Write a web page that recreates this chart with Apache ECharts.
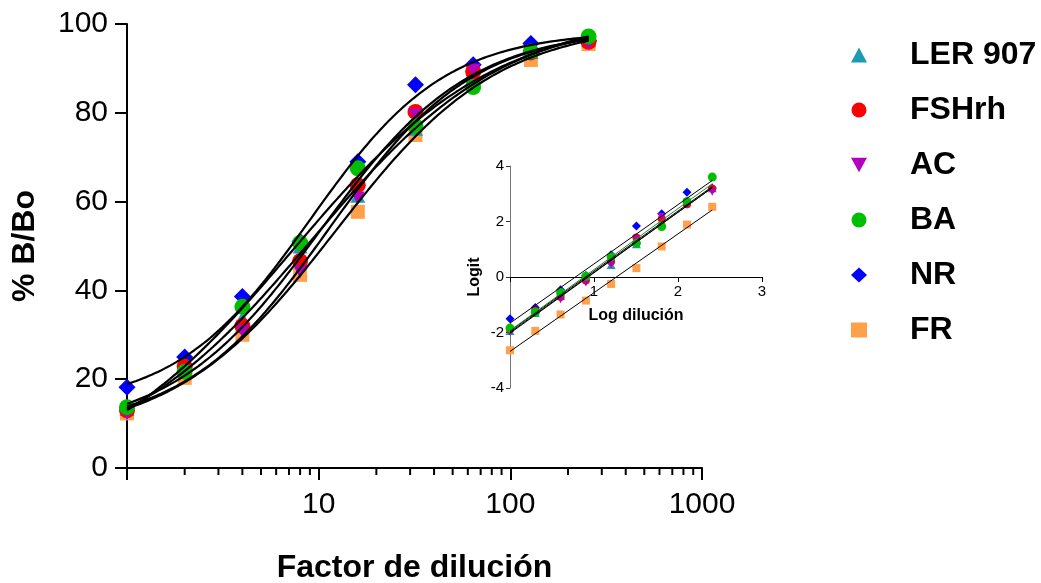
<!DOCTYPE html>
<html>
<head>
<meta charset="utf-8">
<script src="https://cdn.jsdelivr.net/npm/echarts@6/dist/echarts.min.js"></script>
<style>
html,body{margin:0;padding:0;background:#fff;}
#chart{width:1041px;height:583px;}
</style>
</head>
<body>
<div id="chart"></div>
<script>
// ---------- DATA ----------
const seriesNames = ['LER 907', 'FSHrh', 'AC', 'BA', 'NR', 'FR'];
const dilution = [1, 2, 4, 8, 16, 32, 64, 128, 256];
const logDilution = [0, 0.301, 0.602, 0.903, 1.204, 1.505, 1.806, 2.107, 2.408];

// % B/Bo (main plot)
const pctLER907 = [13.2, 21.8, 33.8, 49.8, 61.2, 76.3, 88.0, 93.6, 96.2];
const pctFSHrh  = [13.0, 22.8, 32.0, 46.6, 63.7, 80.2, 89.3, 93.6, 96.0];
const pctAC     = [12.2, 21.2, 30.8, 44.2, 60.8, 79.5, 89.6, 93.3, 95.6];
const pctBA     = [13.7, 21.7, 36.3, 50.7, 67.5, 77.0, 85.8, 93.8, 97.2];
const pctNR     = [18.2, 25.0, 38.6, 51.0, 69.0, 86.3, 90.8, 95.6, 96.2];
const pctFR     = [12.3, 20.3, 30.0, 43.5, 57.7, 75.0, 87.8, 91.9, 95.5];

// Logit (inset)
const logitLER907 = [-1.95, -1.30, -0.68, -0.02, 0.43, 1.18, 1.95, 2.70, 3.20];
const logitFSHrh  = [-1.90, -1.22, -0.72, -0.13, 0.56, 1.42, 2.10, 2.62, 3.18];
const logitAC     = [-1.97, -1.30, -0.80, -0.20, 0.45, 1.36, 2.16, 2.60, 3.07];
const logitBA     = [-1.84, -1.27, -0.56, 0.03, 0.73, 1.22, 1.82, 2.72, 3.60];
const logitNR     = [-1.50, -1.10, -0.46, 0.05, 0.80, 1.84, 2.28, 3.05, 3.21];
const logitFR     = [-2.64, -1.94, -1.35, -0.85, -0.25, 0.32, 1.10, 1.89, 2.53];

const yTicks = [0, 20, 40, 60, 80, 100];
const xMinorTickValues = [2,3,4,5,6,7,8,9,20,30,40,50,60,70,80,90,200,300,400,500,600,700,800,900];

// ---------- STYLE ----------
const colors = {'LER 907':'#1b9cb4','FSHrh':'#ff0000','AC':'#b400c0','BA':'#00bf00','NR':'#0000ff','FR':'#ffa04a'};
const downTri = 'path://M0,0 L10,0 L5,9 Z';
const symbols = {'LER 907':'triangle','FSHrh':'circle','AC':downTri,'BA':'circle','NR':'diamond','FR':'rect'};
const sizesMain = {'LER 907':[15,13],'FSHrh':16,'AC':[14,13],'BA':16,'NR':17,'FR':14};
const sizesInset = {'LER 907':[9,8],'FSHrh':8,'AC':[8,8],'BA':9,'NR':9,'FR':8};
const zOrder = {'FR':3,'NR':4,'LER 907':5,'FSHrh':6,'AC':7,'BA':8};
const pctData = {'LER 907':pctLER907,'FSHrh':pctFSHrh,'AC':pctAC,'BA':pctBA,'NR':pctNR,'FR':pctFR};
const logitData = {'LER 907':logitLER907,'FSHrh':logitFSHrh,'AC':logitAC,'BA':logitBA,'NR':logitNR,'FR':logitFR};
const FONT = "'Liberation Sans', Arial, Helvetica, sans-serif";

// ---------- FITS ----------
function nelderMead(f, x0, steps, iters) {
  const n = x0.length;
  let s = [x0.slice()];
  for (let i = 0; i < n; i++) { const p = x0.slice(); p[i] += steps[i]; s.push(p); }
  let v = s.map(f);
  for (let k = 0; k < iters; k++) {
    const idx = s.map((_, i) => i).sort((a, b) => v[a] - v[b]);
    s = idx.map(i => s[i]); v = idx.map(i => v[i]);
    const c = new Array(n).fill(0);
    for (let i = 0; i < n; i++) for (let j = 0; j < n; j++) c[j] += s[i][j] / n;
    const w = s[n];
    const xr = c.map((cj, j) => cj + (cj - w[j])); const fr = f(xr);
    if (fr < v[0]) {
      const xe = c.map((cj, j) => cj + 2 * (cj - w[j])); const fe = f(xe);
      if (fe < fr) { s[n] = xe; v[n] = fe; } else { s[n] = xr; v[n] = fr; }
    } else if (fr < v[n - 1]) { s[n] = xr; v[n] = fr; }
    else {
      const xc = c.map((cj, j) => cj + 0.5 * (w[j] - cj)); const fc = f(xc);
      if (fc < v[n]) { s[n] = xc; v[n] = fc; }
      else { for (let i = 1; i <= n; i++) { s[i] = s[i].map((q, j) => s[0][j] + 0.5 * (q - s[0][j])); v[i] = f(s[i]); } }
    }
  }
  let bi = 0; for (let i = 1; i <= n; i++) if (v[i] < v[bi]) bi = i;
  return s[bi];
}
function fourPL(p, lx) { return p[0] + (p[1] - p[0]) / (1 + Math.pow(10, (p[2] - lx) * p[3])); }
function fitCurve(xs, ys) {
  const lxs = xs.map(x => Math.log10(x));
  const loss = p => {
    let e = 0;
    for (let i = 0; i < xs.length; i++) { const d = ys[i] - fourPL(p, lxs[i]); e += d * d; }
    if (p[1] > 105) e += (p[1] - 105) * (p[1] - 105) * 10;
    if (p[0] < -5) e += (p[0] + 5) * (p[0] + 5) * 10;
    return e;
  };
  let p = nelderMead(loss, [0, 100, 1.0, 1.0], [5, 5, 0.2, 0.2], 4000);
  p = nelderMead(loss, p, [2, 2, 0.1, 0.1], 4000);
  const pts = [];
  const l0 = Math.log10(xs[0]), l1 = Math.log10(xs[xs.length - 1]);
  for (let i = 0; i <= 150; i++) { const lx = l0 + (l1 - l0) * i / 150; pts.push([Math.pow(10, lx), fourPL(p, lx)]); }
  return pts;
}
function linFit(xs, ys) {
  const n = xs.length; const mx = xs.reduce((a, b) => a + b) / n; const my = ys.reduce((a, b) => a + b) / n;
  let sxy = 0, sxx = 0;
  for (let i = 0; i < n; i++) { sxy += (xs[i] - mx) * (ys[i] - my); sxx += (xs[i] - mx) * (xs[i] - mx); }
  const b = sxy / sxx, a = my - b * mx;
  return [[xs[0], a + b * xs[0]], [xs[n - 1], a + b * xs[n - 1]]];
}

// ---------- SERIES ----------
const series = [];
seriesNames.forEach(name => {
  series.push({
    name: name, type: 'scatter', xAxisIndex: 0, yAxisIndex: 0,
    data: dilution.map((d, i) => [d, pctData[name][i]]),
    symbol: symbols[name], symbolSize: sizesMain[name],
    itemStyle: { color: colors[name], opacity: 1 }, z: zOrder[name], silent: true
  });
  series.push({
    name: name + ' fit', type: 'line', xAxisIndex: 0, yAxisIndex: 0,
    data: fitCurve(dilution, pctData[name]), showSymbol: false, symbol: 'none',
    lineStyle: { color: '#000', width: 2.2 }, z: 10, silent: true
  });
  series.push({
    name: name, type: 'scatter', xAxisIndex: 1, yAxisIndex: 1,
    data: logDilution.map((d, i) => [d, logitData[name][i]]),
    symbol: symbols[name], symbolSize: sizesInset[name],
    itemStyle: { color: colors[name], opacity: 1 }, z: zOrder[name], silent: true
  });
  series.push({
    name: name + ' reg', type: 'line', xAxisIndex: 1, yAxisIndex: 1,
    data: linFit(logDilution, logitData[name]), showSymbol: false, symbol: 'none',
    lineStyle: { color: name === 'BA' ? '#2a8a2a' : '#000', width: 1 }, z: 10, silent: true
  });
});
// minor ticks of the log x axis
series.push({
  type: 'custom', xAxisIndex: 0, yAxisIndex: 0, silent: true, clip: false, z: 20,
  data: xMinorTickValues.map(v => [v, 0]),
  renderItem: (params, api) => {
    const p = api.coord([api.value(0), 0]);
    return { type: 'line', shape: { x1: p[0], y1: p[1], x2: p[0], y2: p[1] + 7 }, style: { stroke: '#000', lineWidth: 2 } };
  }
});

const insetHeight = 222;
const chart = echarts.init(document.getElementById('chart'), null, { renderer: 'canvas' });
chart.setOption({
  animation: false,
  backgroundColor: '#fff',
  textStyle: { fontFamily: FONT },
  legend: {
    data: seriesNames, orient: 'vertical', left: 846, top: 34,
    itemWidth: 16, itemHeight: 15, itemGap: 23, selectedMode: false,
    textStyle: { fontFamily: FONT, fontSize: 32, fontWeight: 'bold', color: '#000', lineHeight: 32, padding: [0, 0, 0, 38] }
  },
  grid: [
    { left: 127, right: 339, top: 24, bottom: 115, containLabel: false, outerBoundsMode: 'none' },
    { left: 510, top: 166, width: 252, height: insetHeight, containLabel: false, outerBoundsMode: 'none' }
  ],
  xAxis: [
    {
      type: 'log', logBase: 10, min: 1, max: 1000, gridIndex: 0,
      name: 'Factor de dilución', nameLocation: 'middle', nameGap: 84,
      nameTextStyle: { fontFamily: FONT, fontSize: 32, fontWeight: 'bold', color: '#000' },
      axisLine: { show: true, lineStyle: { color: '#000', width: 2 } },
      axisTick: { show: true, inside: false, length: 12, lineStyle: { color: '#000', width: 2 } },
      axisLabel: { fontFamily: FONT, fontSize: 30, color: '#000', margin: 22, formatter: v => (v <= 1 ? '' : String(v)) },
      splitLine: { show: false }, minorTick: { show: false }
    },
    {
      type: 'value', min: 0, max: 3, interval: 1, gridIndex: 1,
      position: 'bottom', offset: -insetHeight / 2,
      name: 'Log dilución', nameLocation: 'middle', nameGap: 31,
      nameTextStyle: { fontFamily: FONT, fontSize: 16, fontWeight: 'bold', color: '#000' },
      axisLine: { show: true, onZero: false, lineStyle: { color: '#000', width: 1 } },
      axisTick: { show: true, inside: false, length: 5, lineStyle: { color: '#000', width: 1 } },
      axisLabel: { fontFamily: FONT, fontSize: 15, color: '#000', margin: 7, formatter: v => (v === 0 ? '' : String(v)) },
      splitLine: { show: false }
    }
  ],
  yAxis: [
    {
      type: 'value', min: 0, max: 100, interval: 20, gridIndex: 0,
      name: '% B/Bo', nameLocation: 'middle', nameGap: 86,
      nameTextStyle: { fontFamily: FONT, fontSize: 32, fontWeight: 'bold', color: '#000' },
      axisLine: { show: true, lineStyle: { color: '#000', width: 2 } },
      axisTick: { show: true, inside: false, length: 12, lineStyle: { color: '#000', width: 2 } },
      axisLabel: { fontFamily: FONT, fontSize: 30, color: '#000', margin: 19, formatter: v => (yTicks.indexOf(v) >= 0 ? String(v) : '') },
      splitLine: { show: false }
    },
    {
      type: 'value', min: -4, max: 4, interval: 2, gridIndex: 1,
      name: 'Logit', nameLocation: 'middle', nameGap: 27,
      nameTextStyle: { fontFamily: FONT, fontSize: 16, fontWeight: 'bold', color: '#000' },
      axisLine: { show: true, onZero: false, lineStyle: { color: '#777', width: 1 } },
      axisTick: { show: true, inside: false, length: 4, lineStyle: { color: '#333', width: 1 } },
      axisLabel: { fontFamily: FONT, fontSize: 15, color: '#000', margin: 6 },
      splitLine: { show: false }
    }
  ],
  series: series
});
</script>
</body>
</html>
